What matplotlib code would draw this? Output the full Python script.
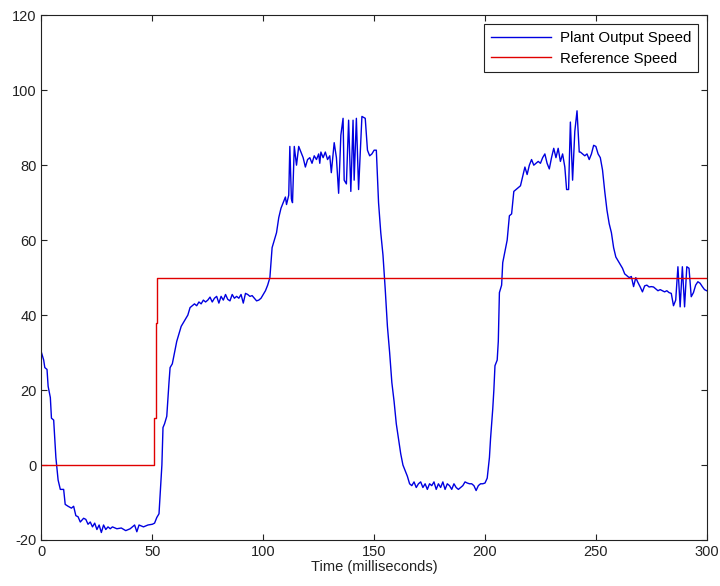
import matplotlib
matplotlib.use("Agg")
import matplotlib.pyplot as plt

plt.rcParams['font.family'] = ['Liberation Sans', 'DejaVu Sans']
plt.rcParams['axes.unicode_minus'] = False

# Plant output speed (time in ms, value)
t_out = [0, 1, 1.5, 2.5, 3, 4, 4.5, 5.5, 6.5, 7.5, 8.5, 10, 10.7, 12, 13.5, 14.5, 15.5, 16.5,
         17.5, 19, 20, 21, 22, 23, 24, 25, 26, 27, 28, 29, 30, 31, 32, 34, 36, 38, 40, 42,
         43, 44, 46, 48, 50, 51, 52, 53, 53.5, 54.3, 54.8, 55.5, 56.5, 57.5, 58, 59, 60,
         61, 62, 63, 64, 65, 66, 67, 68, 69, 70, 71, 72, 73, 74, 75, 76, 77, 78, 79, 80,
         81, 82, 83, 84, 85, 86, 87, 88, 89, 90, 91, 92, 93, 94, 95, 96, 97, 98, 99, 100,
         101, 102, 103, 104, 105, 106, 107, 108, 109, 110, 110.5, 111.5, 112, 112.7, 113.2,
         114, 115, 116, 117, 118, 119, 120, 121, 122, 123, 124, 125, 125.5, 126, 127, 128,
         129, 130, 130.7, 131.5, 132, 133, 134, 135, 136, 136.5, 137.5, 138.5, 139.5, 140.5,
         141, 142, 143, 144.5, 146, 147, 148, 149, 150, 151, 152, 153, 154, 155, 156, 157,
         158, 159, 160, 161, 162, 163, 164, 165, 166, 167, 168, 169, 170, 171, 172, 173,
         174, 175, 176, 177, 178, 179, 180, 181, 182, 183, 184, 185, 186, 187, 188, 189,
         190, 191, 192, 193, 194, 195, 196, 197, 198, 199, 200, 201, 202, 202.5, 203.5,
         204, 204.5, 205.5, 206, 206.5, 207.5, 208, 209, 210, 211, 212, 213, 214, 215, 216,
         217, 218, 219, 220, 221, 222, 223, 224, 225, 226, 227, 228, 229, 230, 231, 232,
         233, 234, 235, 236, 236.8, 237.7, 238.5, 239.5, 240.5, 241.5, 242.5, 243, 244,
         245, 246, 247, 248, 249, 250, 251, 252, 253, 254, 255, 256, 257, 258, 259, 260,
         261, 262, 263, 264, 265, 266, 267, 268, 268.8, 270, 271, 272, 273, 274, 275, 276,
         277, 278, 279, 280, 281, 282, 283, 284, 285, 286, 287, 288, 289, 290, 291, 292,
         293, 294, 295, 296, 297, 298, 299, 300]
v_out = [30, 28, 26, 25.5, 21, 18, 12.5, 12, 2, -4, -6.5, -6.5, -10.5, -11, -11.5, -11, -13.5,
         -13.8, -15.2, -14.2, -14.5, -15.8, -15.2, -16.5, -15.5, -17.2, -16, -18, -16, -17.2,
         -16.5, -17, -16.5, -17, -16.8, -17.5, -17, -16, -17.8, -16, -16.5, -16, -15.8, -15.5,
         -14, -13, -8, 0, 10, 11, 13, 22, 26, 27, 30, 33, 35, 37, 38, 39, 40, 42, 42.5, 43,
         42.5, 43.5, 43, 44, 43.5, 44, 44.8, 43.5, 44.5, 45, 43.2, 45, 44, 45.5, 44.2, 43.8,
         45.5, 44.5, 45, 44.5, 45.5, 43.2, 45.8, 45.5, 45, 45.2, 44.5, 43.8, 44, 44.5, 45.5,
         46.5, 48, 50, 58, 60, 62, 66, 68.5, 70, 71.5, 69.5, 72, 85, 71, 70, 85, 80, 85, 83.5,
         82, 79.5, 81.5, 82, 80.5, 82.5, 81.5, 83, 80.5, 83.5, 82, 83.5, 81.5, 82.5, 78, 83,
         86, 82, 72.5, 88, 92.5, 76, 75, 92, 73, 92, 76, 92.5, 73.5, 93, 92.5, 84, 82.5, 83,
         84, 84, 70, 62, 56, 47, 37, 30, 22, 17, 11, 7, 3, 0, -1.5, -3, -5, -5.5, -4.5, -6,
         -5, -4.5, -6, -5, -6.5, -5, -5.5, -4.5, -6.5, -5, -6, -4.5, -6.5, -5, -5.5, -6.5,
         -5, -6, -6.5, -6, -5.5, -4.5, -4.8, -5, -5, -5.5, -6.8, -5.5, -5, -5, -4.8, -3.5, 2,
         7, 15, 20, 26.5, 28, 33, 46, 48, 54, 57, 60, 66.5, 67, 73, 73.5, 74, 74.5, 77, 79.5,
         77.5, 80, 81.5, 80, 80.5, 81, 80.5, 82, 83, 80.5, 79, 82, 84.5, 82, 84.5, 81, 83,
         79.5, 73.5, 73.5, 91.5, 76, 89, 94.5, 83.5, 83.5, 83, 82.5, 83, 81.5, 83, 85.3, 85,
         83, 82, 78.7, 73, 68, 64.4, 62, 58, 55.5, 54.5, 53.5, 52.5, 51, 50.5, 50, 50.3, 47.6,
         50, 48.9, 47.5, 46.2, 47.8, 48, 47.5, 47.6, 47.5, 47, 46.5, 46.8, 46.5, 46.2, 46.5,
         46, 45.8, 42.5, 44, 52.9, 42.2, 52.9, 42.2, 52.9, 52.5, 44.9, 46, 48, 48.9, 48.5,
         47.6, 46.8, 46.5]

# Reference speed
t_ref = [0, 50.8, 50.8, 51.5, 51.5, 52.2, 52.2, 300]
v_ref = [0, 0, 12.5, 12.5, 38, 38, 50, 50]

x_ticks = [0, 50, 100, 150, 200, 250, 300]
y_ticks = [-20, 0, 20, 40, 60, 80, 100, 120]

fig = plt.figure(figsize=(7.2, 5.86), dpi=100)
ax = fig.add_axes([0.0576, 0.0785, 0.924, 0.8955])
ax.plot(t_out, v_out, color='#0000e0', lw=1.0, label='Plant Output Speed')
ax.plot(t_ref, v_ref, color='#e00000', lw=1.0, label='Reference Speed')
ax.set_xlim(0, 300)
ax.set_ylim(-20, 120)
ax.set_xticks(x_ticks)
ax.set_yticks(y_ticks)
ax.tick_params(direction='in', top=True, right=True, labelsize=10.5, length=4, width=0.8,
               pad=3.5, colors='#222222')
for s in ax.spines.values():
    s.set_linewidth(0.8)
    s.set_color('#222222')
ax.set_xlabel('Time (milliseconds)', fontsize=10.5, labelpad=1, color='#222222')
leg = ax.legend(loc='upper right', fontsize=10.8, fancybox=False, edgecolor='#222222',
                framealpha=1, handlelength=4.0, borderaxespad=0.6, borderpad=0.45,
                labelspacing=0.45, handletextpad=0.6)
leg.get_frame().set_linewidth(0.8)
fig.savefig('out.png', dpi=100, facecolor='white')
